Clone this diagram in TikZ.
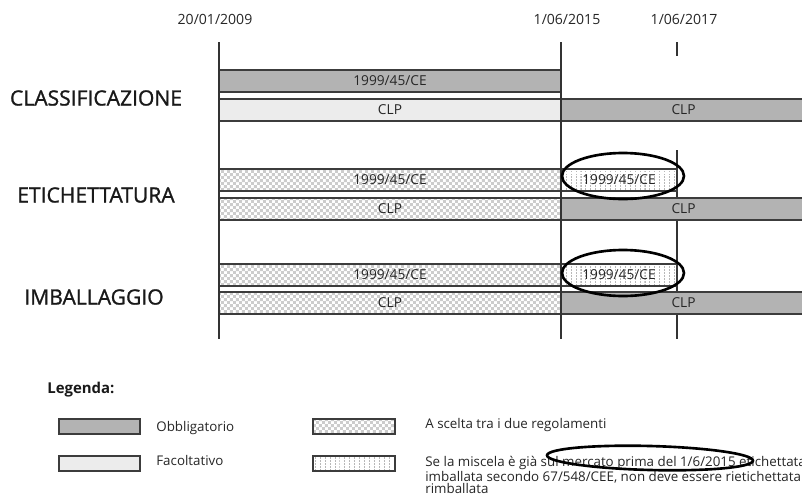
\documentclass[tikz,border=0pt]{standalone}
\usepackage{fontspec}
\setmainfont{Open Sans}
\newfontfamily\headfont[FakeBold=1.2]{Open Sans}
\definecolor{obblgray}{RGB}{179,179,179}
\definecolor{facgray}{RGB}{236,236,236}
\definecolor{edgegray}{RGB}{60,60,60}
\usetikzlibrary{patterns}
\pgfdeclarepatternformonly{finechecker}{\pgfqpoint{0pt}{0pt}}{\pgfqpoint{3.4pt}{3.4pt}}{\pgfqpoint{3.4pt}{3.4pt}}{%
  \pgfpathrectangle{\pgfpointorigin}{\pgfqpoint{1.7pt}{1.7pt}}%
  \pgfpathrectangle{\pgfqpoint{1.7pt}{1.7pt}}{\pgfqpoint{1.7pt}{1.7pt}}\pgfusepath{fill}}
\pgfdeclarepatternformonly{vdashes}{\pgfqpoint{-0.1pt}{-0.1pt}}{\pgfqpoint{3pt}{2pt}}{\pgfqpoint{2.8pt}{1.7pt}}{%
  \pgfpathrectangle{\pgfqpoint{0pt}{0pt}}{\pgfqpoint{0.6pt}{1.1pt}}\pgfusepath{fill}}

\begin{document}
\begin{tikzpicture}[x=0.02cm, y=-0.02cm,
      bar/.style={draw=edgegray, line width=0.6pt},
      obbl/.style={bar, fill=obblgray},
      facolt/.style={bar, fill=facgray},
      scelta/.style={bar, pattern=finechecker, pattern color=black!20},
      miscela/.style={bar, pattern=vdashes, pattern color=black!28},
      lbl/.style={font=\fontsize{7.8}{9}\selectfont, text=black!85, inner sep=0pt},
      head/.style={font=\headfont\fontsize{12}{14}\selectfont, text=black!90, inner sep=0pt},
      date/.style={font=\fontsize{8}{10}\selectfont, text=black!85, inner sep=0pt},
      leg/.style={font=\fontsize{7.6}{6.8}\selectfont, text=black!85, inner sep=0pt, anchor=west},
      tline/.style={black!80, line width=0.6pt},
      circ/.style={black, line width=1.5pt}
    ]
      \useasboundingbox (0,0) rectangle (802,501);
      \fill[white] (0,0) rectangle (802,501);

      % date ticks
      \node[date] (d2009) at (215,19) {20/01/2009};
      \node[date] (d2015) at (567,19) {1/06/2015};
      \node[date] (d2017) at (684,19) {1/06/2017};
      \draw[tline] (677,42) -- (677,56);
      \draw[tline] (677,150) -- (677,339);

      % classificazione
      \node[head] (classif) at (96,98) {CLASSIFICAZIONE};
      \draw[obbl] (219,70) rectangle node[lbl] {1999/45/CE} (561,92);
      \draw[facolt] (219,99) rectangle node[lbl] {CLP} (561,121);
      \draw[obbl] (561,99) rectangle node[lbl] {CLP} (806,121);

      % etichettatura
      \node[head] (etich) at (96,195) {ETICHETTATURA};
      \draw[scelta] (219,169) rectangle node[lbl] {1999/45/CE} (561,191);
      \draw[miscela] (561,169) rectangle node[lbl] {1999/45/CE} (677,191);
      \draw[scelta] (219,198) rectangle node[lbl] {CLP} (561,220);
      \draw[obbl] (561,198) rectangle node[lbl] {CLP} (806,220);

      % imballaggio
      \node[head] (imball) at (94,297) {IMBALLAGGIO};
      \draw[scelta] (219,264) rectangle node[lbl] {1999/45/CE} (561,286);
      \draw[miscela] (561,264) rectangle node[lbl] {1999/45/CE} (677,286);
      \draw[scelta] (219,292) rectangle node[lbl] {CLP} (561,314);
      \draw[obbl] (561,292) rectangle node[lbl] {CLP} (806,314);

      \draw[tline] (219,42) -- (219,339);
      \draw[tline] (561,42) -- (561,339);

      \draw[circ] (623,176) ellipse [x radius=61, y radius=23];
      \draw[circ] (623,273) ellipse [x radius=61, y radius=23];

      % legenda
      \node[font=\fontsize{8.5}{10}\selectfont\bfseries, text=black!90, inner sep=0pt, anchor=west] (legenda) at (47,390) {Legenda:};
      \draw[obbl] (59,419) rectangle (140,434);
      \node[leg] (obbltxt) at (156,428) {Obbligatorio};
      \draw[facolt] (59,456) rectangle (140,471);
      \node[leg] (factxt) at (156,460) {Facoltativo};
      \draw[scelta] (313,419) rectangle (395,434);
      \node[leg] (sceltatxt) at (425,425) {A scelta tra i due regolamenti};
      \draw[miscela] (313,456) rectangle (395,471);
      \node[leg, anchor=north west, align=left] (misceltxt) at (425,455.5) {Se la miscela è già sul mercato prima del 1/6/2015 etichettata e\\imballata secondo 67/548/CEE, non deve essere rietichettata e\\rimballata};
      \draw[circ] (650,458) ellipse [x radius=103, y radius=12, rotate=-1.5];
    \end{tikzpicture}
\end{document}
